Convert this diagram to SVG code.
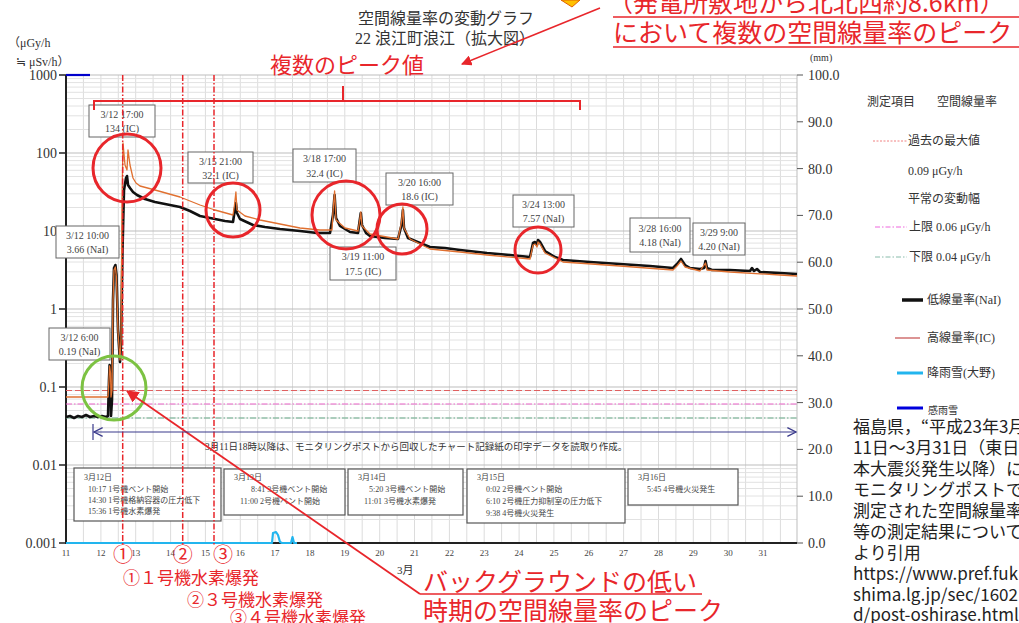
<svg xmlns="http://www.w3.org/2000/svg" width="1019" height="623" viewBox="0 0 1019 623">
<defs>
<style>
.ser{font-family:"Liberation Serif","Noto Sans CJK JP",serif;fill:#333}
.san{font-family:"Noto Sans CJK JP","Noto Sans",sans-serif}
.red{fill:#e8262b}
.lb{fill:#fff;stroke:#666;stroke-width:1}
.lt{font-family:"Liberation Serif","Noto Sans CJK JP",serif;font-size:10px;fill:#444;text-anchor:middle}
.ev{font-family:"Liberation Serif","Noto Sans CJK JP",serif;font-size:8px;fill:#444}
.evb{fill:#fff;stroke:#555;stroke-width:1.2}
.rc{fill:none;stroke:#e8262b;stroke-width:3}
.vd{stroke:#e8262b;stroke-width:1.5;stroke-dasharray:6,2,1.5,2;fill:none}
.ax{font-family:"Liberation Serif","Noto Sans CJK JP",serif;font-size:14px;fill:#333}
.xl{font-family:"Liberation Serif",serif;font-size:9px;fill:#444;text-anchor:middle}
.cit{font-family:"Noto Sans CJK JP","Noto Sans",sans-serif;font-size:17px;fill:#222}
</style>
<marker id="ah" viewBox="0 0 10 10" refX="9" refY="5" markerWidth="7" markerHeight="7" orient="auto-start-reverse"><path d="M0,0 L10,5 L0,10 z" fill="#e8262b"/></marker>
<marker id="bh" viewBox="0 0 10 10" refX="9" refY="5" markerWidth="9" markerHeight="9" orient="auto-start-reverse"><path d="M1,1 L9,5 L1,9" fill="none" stroke="#3a3a8c" stroke-width="1.2"/></marker>
</defs>
<rect width="1019" height="623" fill="#fff"/>

<g id="grid" fill="none">
<path stroke="#dcdcdc" stroke-width="1" d="M83.4,75V543M100.9,75V543M118.3,75V543M135.7,75V543M153.1,75V543M170.6,75V543M188,75V543M205.4,75V543M222.8,75V543M240.3,75V543M257.7,75V543M275.1,75V543M292.5,75V543M310,75V543M327.4,75V543M344.8,75V543M362.2,75V543M379.7,75V543M397.1,75V543M414.5,75V543M431.9,75V543M449.4,75V543M466.8,75V543M484.2,75V543M501.6,75V543M519.1,75V543M536.5,75V543M553.9,75V543M571.3,75V543M588.8,75V543M606.2,75V543M623.6,75V543M641,75V543M658.5,75V543M675.9,75V543M693.3,75V543M710.7,75V543M728.2,75V543M745.6,75V543M763,75V543M780.4,75V543"/>
<path stroke="#e2e2e2" stroke-width="1" d="M66,519.5H797M66,505.8H797M66,496H797M66,488.5H797M66,482.3H797M66,477.1H797M66,472.6H797M66,468.6H797M66,441.5H797M66,427.8H797M66,418H797M66,410.5H797M66,404.3H797M66,399.1H797M66,394.6H797M66,390.6H797M66,363.5H797M66,349.8H797M66,340H797M66,332.5H797M66,326.3H797M66,321.1H797M66,316.6H797M66,312.6H797M66,285.5H797M66,271.8H797M66,262H797M66,254.5H797M66,248.3H797M66,243.1H797M66,238.6H797M66,234.6H797M66,207.5H797M66,193.8H797M66,184H797M66,176.5H797M66,170.3H797M66,165.1H797M66,160.6H797M66,156.6H797M66,129.5H797M66,115.8H797M66,106H797M66,98.5H797M66,92.3H797M66,87.1H797M66,82.6H797M66,78.6H797"/>
<path stroke="#bdbdbd" stroke-width="1" d="M66,465H797M66,387H797M66,309H797M66,231H797M66,153H797M66,75H797M797,75V543"/>
</g>

<g id="axes">
<path d="M66,75V543H797" fill="none" stroke="#222" stroke-width="2"/>
<path d="M59,75H66M59,153H66M59,231H66M59,309H66M59,387H66M59,465H66M59,543H66" stroke="#222" stroke-width="1.5"/>
<path d="M797,75H803M797,121.8H803M797,168.6H803M797,215.4H803M797,262.2H803M797,309H803M797,355.8H803M797,402.6H803M797,449.4H803M797,496.2H803M797,543H803" stroke="#555" stroke-width="1"/>
<g class="ax" text-anchor="end">
<text x="57" y="80">1000</text><text x="57" y="158">100</text><text x="57" y="236">10</text><text x="57" y="314">1</text><text x="57" y="392">0.1</text><text x="57" y="470">0.01</text><text x="57" y="548">0.001</text>
</g>
<g class="ax">
<text x="808" y="80">100.0</text><text x="808" y="127">90.0</text><text x="808" y="174">80.0</text><text x="808" y="220">70.0</text><text x="808" y="267">60.0</text><text x="808" y="314">50.0</text><text x="808" y="361">40.0</text><text x="808" y="408">30.0</text><text x="808" y="454">20.0</text><text x="808" y="501">10.0</text><text x="808" y="548">0.0</text>
</g>
<g class="xl">
<text x="66" y="556">11</text><text x="100.9" y="556">12</text><text x="135.7" y="556">13</text><text x="170.6" y="556">14</text><text x="205.4" y="556">15</text><text x="240.3" y="556">16</text><text x="275.1" y="556">17</text><text x="310" y="556">18</text><text x="344.8" y="556">19</text><text x="379.7" y="556">20</text><text x="414.5" y="556">21</text><text x="449.4" y="556">22</text><text x="484.2" y="556">23</text><text x="519.1" y="556">24</text><text x="553.9" y="556">25</text><text x="588.8" y="556">26</text><text x="623.6" y="556">27</text><text x="658.5" y="556">28</text><text x="693.3" y="556">29</text><text x="728.2" y="556">30</text><text x="763" y="556">31</text>
</g>
<text class="ser" x="397" y="574" font-size="11">3月</text>
<text class="ser" x="8" y="47" font-size="12">（μGy/h</text>
<text class="ser" x="16" y="66" font-size="12">≒ μSv/h）</text>
<text class="ser" x="810" y="61" font-size="10">(mm)</text>
<text class="ser" x="358" y="24" font-size="16">空間線量率の変動グラフ</text>
<text class="ser" x="355" y="44" font-size="16">22 浪江町浪江（拡大図）</text>
</g>

<g id="reflines" fill="none" stroke-width="1.2">
<path d="M66,390.5H797" stroke="#e06060" stroke-dasharray="6,3"/>
<path d="M66,404H797" stroke="#ee66cc" stroke-dasharray="6,2,1.5,2"/>
<path d="M66,418H797" stroke="#66aa88" stroke-dasharray="6,2,1.5,2"/>
</g>

<g id="data" fill="none" stroke-linejoin="round">
<path d="M66,543H272L273,533L276,532L278,535L280,542L282,543H291L292.5,537L294,543H297" stroke="#22b5ee" stroke-width="2.2"/>
<path d="M66,75H90" stroke="#0000cc" stroke-width="2.2"/>
<path stroke="#111" stroke-width="2.6" d="M66,417L70,416L74,418L78,416L82,417L86,415L90,417L94,416L98,417L102,416L106,417L108,416L109,380L109.6,365L110.5,372L111,416L112,400L113,300L114,268L115.4,265L116.5,275L118,330L120,362L121,345L122.5,250L124,190L126,178L127,176L128,185L130,188L133,192L137,195L145,199L155,202L170,205L180,207L190,211L200,216L215,219L225,221L233,222L234.5,212L235.9,203L237,213L240,219L253,225L265,227L280,229L300,231L317,233L330,233L333,215L334.6,195L336,218L340,226L350,232L358,233L359.5,222L360.8,213L362,225L366,233L370,236L385,238L398,239L401.5,225L402.9,210L404,228L408,238L420,243L430,247L445,248L460,250L487,253L510,255L530,257L533,243L535,242L537,245L538,240L540,242L545,251L555,257L563,260L590,262L620,264L650,266L673,268L677,264L681,259L685,265L690,268L700,269L704,268L705.5,261L707,268L712,270L730,270L750,271L752,268L754,271L757,269L760,272L780,273L797,274"/>
<path stroke="#e07030" stroke-width="1.3" d="M66,397L108,397L109,380L109.6,366L110.5,373L111,397L112,390L113,300L114,270L115.4,267L116.5,278L118,332L120,360L121,340L122,200L123,143L125,165L127,170L128,150L130,165L133,178L136,183L140,186L155,190L180,197L200,205L215,210L233,215L234.5,205L235.9,192L237,210L245,216L260,220L280,224L300,228L320,230L332,230L333,212L334.6,191L336,220L345,228L358,231L359.5,222L360.8,212L362,226L370,234L398,239L401.5,222L402.9,207L404,228L410,239L420,244L430,249L460,252L487,255L530,259L533,245L535,244L537,247L538,242L540,244L545,253L563,262L620,266L673,270L677,266L681,261L685,267L700,271L705.5,263L707,270L730,272L780,275L797,276"/>
</g>

<g id="note-chart">
<text class="ser" x="205" y="450" font-size="9.5">3月11日18時以降は、モニタリングポストから回収したチャート記録紙の印字データを読取り作成。</text>
</g>

<g id="peak-labels">
<g id="lb1"><rect class="lb" x="89" y="105" width="66" height="32"/><text class="lt" x="122" y="118">3/12 17:00</text><text class="lt" x="122" y="132">134 (IC)</text></g>
<g id="lb2"><rect class="lb" x="188" y="152" width="65" height="31"/><text class="lt" x="220.5" y="165">3/15 21:00</text><text class="lt" x="220.5" y="179">32.1 (IC)</text></g>
<g id="lb3"><rect class="lb" x="293" y="149" width="63" height="33"/><text class="lt" x="324.5" y="162">3/18 17:00</text><text class="lt" x="324.5" y="177">32.4 (IC)</text></g>
<g id="lb4"><rect class="lb" x="386" y="173" width="67" height="32"/><text class="lt" x="419.5" y="186">3/20 16:00</text><text class="lt" x="419.5" y="200">18.6 (IC)</text></g>
<g id="lb5"><rect class="lb" x="330" y="247" width="66" height="33"/><text class="lt" x="363" y="260">3/19 11:00</text><text class="lt" x="363" y="275">17.5 (IC)</text></g>
<g id="lb6"><rect class="lb" x="513" y="195" width="61" height="32"/><text class="lt" x="543.5" y="208">3/24 13:00</text><text class="lt" x="543.5" y="222">7.57 (NaI)</text></g>
<g id="lb7"><rect class="lb" x="630" y="218" width="60" height="34"/><text class="lt" x="660" y="232">3/28 16:00</text><text class="lt" x="660" y="246">4.18 (NaI)</text></g>
<g id="lb8"><rect class="lb" x="693" y="223" width="52" height="32"/><text class="lt" x="719" y="236">3/29 9:00</text><text class="lt" x="719" y="250">4.20 (NaI)</text></g>
<g id="lb9"><rect class="lb" x="56" y="226" width="63" height="32"/><text class="lt" x="87.5" y="239">3/12 10:00</text><text class="lt" x="87.5" y="253">3.66 (NaI)</text></g>
<g id="lb10"><rect class="lb" x="49" y="328" width="61" height="32"/><text class="lt" x="79.5" y="341">3/12 6:00</text><text class="lt" x="79.5" y="355">0.19 (NaI)</text></g>
</g>

<g id="events">
<g id="ev12"><rect class="evb" x="74" y="468" width="147" height="53"/><text class="ev" x="84" y="480">3月12日</text><text class="ev" x="88" y="492">10:17 1号機ベント開始</text><text class="ev" x="88" y="503">14:30 1号機格納容器の圧力低下</text><text class="ev" x="88" y="514">15:36 1号機水素爆発</text></g>
<g id="ev13"><rect class="evb" x="224" y="469" width="121" height="46"/><text class="ev" x="234" y="480">3月13日</text><text class="ev" x="251" y="492">8:41 3号機ベント開始</text><text class="ev" x="240" y="504">11:00 2号機ベント開始</text></g>
<g id="ev14"><rect class="evb" x="348" y="469" width="115" height="46"/><text class="ev" x="358" y="480">3月14日</text><text class="ev" x="369" y="492">5:20 3号機ベント開始</text><text class="ev" x="364" y="504">11:01 3号機水素爆発</text></g>
<g id="ev15"><rect class="evb" x="467" y="469" width="158" height="54"/><text class="ev" x="477" y="480">3月15日</text><text class="ev" x="486" y="492">0:02 2号機ベント開始</text><text class="ev" x="486" y="504">6:10 2号機圧力抑制室の圧力低下</text><text class="ev" x="486" y="516">9:38 4号機火災発生</text></g>
<g id="ev16"><rect class="evb" x="628" y="469" width="110" height="36"/><text class="ev" x="638" y="480">3月16日</text><text class="ev" x="647" y="492">5:45 4号機火災発生</text></g>
</g>

<g id="explosion-lines">
<path class="vd" d="M122.7,75V546"/>
<path class="vd" d="M182.7,75V546"/>
<path class="vd" d="M214,75V546"/>
</g>

<g id="circles">
<circle class="rc" cx="127" cy="168" r="34"/>
<circle class="rc" cx="233" cy="210" r="27"/>
<circle class="rc" cx="346" cy="215" r="34"/>
<circle class="rc" cx="402" cy="229" r="25"/>
<circle class="rc" cx="538" cy="250" r="23"/>
<circle cx="114" cy="388" r="32" fill="none" stroke="#7cc242" stroke-width="3"/>
</g>

<g id="bracket">
<path d="M94,110V101H580V110M343,101V86" fill="none" stroke="#e8262b" stroke-width="2"/>
<text class="san red" x="270" y="73" font-size="22">複数のピーク値</text>
</g>

<g id="callout-top">
<polygon points="561,0 580,0 572,7" fill="#ffc000" stroke="#e06000" stroke-width="1"/>
<text class="san red" x="608" y="12" font-size="25">（発電所敷地から北北西約8.6km）</text>
<path d="M613,17H1019" stroke="#e8262b" stroke-width="1.5"/>
<text class="san red" x="613" y="42" font-size="25">において複数の空間線量率のピーク</text>
<path d="M613,47H1019" stroke="#e8262b" stroke-width="1.5"/>
</g>

<g id="explosion-notes" class="san red">
<text x="123" y="562" font-size="20" text-anchor="middle">①</text>
<text x="182.7" y="562" font-size="20" text-anchor="middle">②</text>
<text x="223" y="562" font-size="20" text-anchor="middle">③</text>
<text x="123" y="584" font-size="17">①１号機水素爆発</text>
<text x="187" y="606" font-size="17">②３号機水素爆発</text>
<text x="230" y="624" font-size="17">③４号機水素爆発</text>
</g>

<g id="callout-bottom">
<text class="san red" x="423" y="591" font-size="25">バックグラウンドの低い</text>
<path d="M420,594H702" stroke="#e8262b" stroke-width="1.5"/>
<text class="san red" x="423" y="620" font-size="25">時期の空間線量率のピーク</text>
</g>

<g id="connectors" fill="none">
<path d="M600,8L462,64" stroke="#e8262b" stroke-width="1.5" marker-end="url(#ah)"/>
<path d="M420,594L127,391" stroke="#e8262b" stroke-width="1.8" marker-end="url(#ah)"/>
<path d="M94,432H796" stroke="#3a3a8c" stroke-width="1.2" marker-start="url(#bh)" marker-end="url(#bh)"/>
<path d="M93,424V440" stroke="#3a3a8c" stroke-width="1.2"/>
</g>

<g id="legend">
<text class="ser" x="867" y="106" font-size="12">測定項目</text><text class="ser" x="937" y="106" font-size="12">空間線量率</text>
<path d="M873,141H907" stroke="#f08080" stroke-width="1" stroke-dasharray="2,1.5" fill="none"/>
<text class="ser" x="908" y="145" font-size="12">過去の最大値</text>
<text class="ser" x="908" y="175" font-size="12">0.09 μGy/h</text>
<text class="ser" x="908" y="203" font-size="12">平常の変動幅</text>
<path d="M875,227H907" stroke="#ee66dd" stroke-width="1" stroke-dasharray="5,2,1.5,2" fill="none"/>
<text class="ser" x="909" y="231" font-size="12">上限 0.06 μGy/h</text>
<path d="M875,257H907" stroke="#88bbaa" stroke-width="1" stroke-dasharray="5,2,1.5,2" fill="none"/>
<text class="ser" x="909" y="261" font-size="12">下限 0.04 μGy/h</text>
<path d="M902,300H923" stroke="#111" stroke-width="3.5"/>
<text class="ser" x="927" y="304" font-size="12">低線量率(NaI)</text>
<path d="M895,338H920" stroke="#d07070" stroke-width="1.5"/>
<text class="ser" x="927" y="342" font-size="12">高線量率(IC)</text>
<path d="M897,373H923" stroke="#22b5ee" stroke-width="3"/>
<text class="ser" x="927" y="377" font-size="12">降雨雪(大野)</text>
<path d="M897,408H923" stroke="#0000dd" stroke-width="3"/>
<text class="ser" x="928" y="414" font-size="10">感雨雪</text>
</g>

<g id="citation" class="cit">
<text x="853" y="433">福島県，“平成23年3月</text>
<text x="853" y="454">11日～3月31日（東日</text>
<text x="853" y="475">本大震災発生以降）に</text>
<text x="853" y="496">モニタリングポストで</text>
<text x="853" y="517">測定された空間線量率</text>
<text x="853" y="538">等の測定結果について</text>
<text x="853" y="559">より引用</text>
<text x="853" y="580">https://www.pref.fuk</text>
<text x="853" y="601">shima.lg.jp/sec/1602</text>
<text x="853" y="621">d/post-oshirase.html</text>
</g>
</svg>
